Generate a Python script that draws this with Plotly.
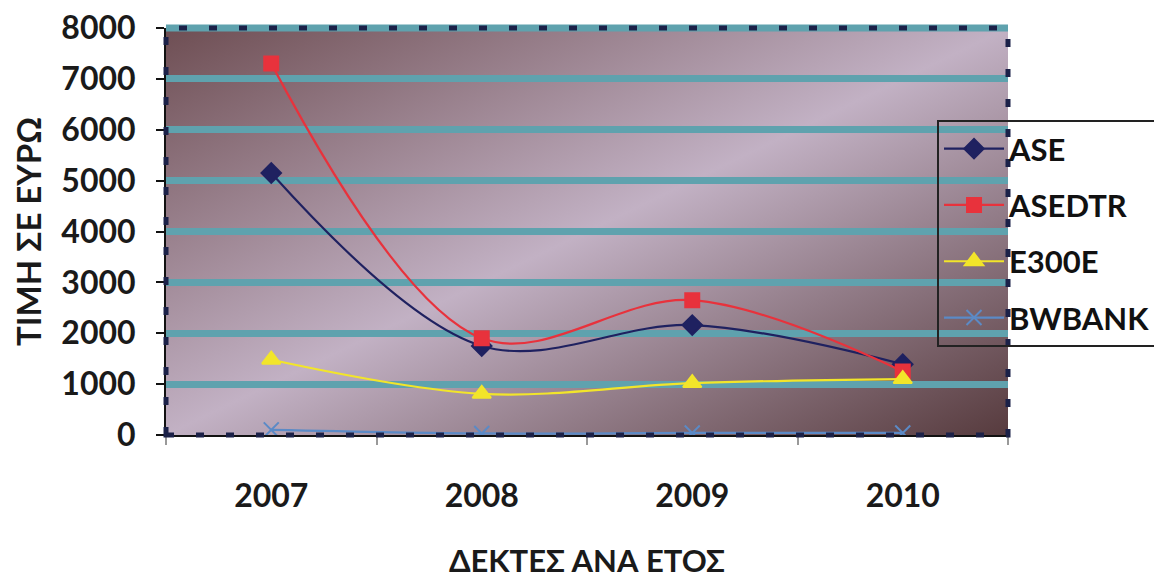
import base64
import plotly.graph_objects as go

years = ["2007", "2008", "2009", "2010"]
ase = [5150, 1750, 2160, 1390]
asedtr = [7300, 1900, 2650, 1250]
e300e = [1480, 810, 1020, 1100]
bwbank = [100, 30, 40, 40]

series_names = ["ASE", "ASEDTR", "E300E", "BWBANK"]
line_colors = ["#1f2160", "#e8323c", "#f2e52a", "#5b8ac6"]
marker_symbols = ["diamond", "square", "triangle-up", "x-thin-open"]
marker_sizes = [15, 14, 16, 15]
y_tick_vals = [0, 1000, 2000, 3000, 4000, 5000, 6000, 7000, 8000]

FONT = "Lato"

fig = go.Figure()
for i, (name, vals) in enumerate(zip(series_names, [ase, asedtr, e300e, bwbank])):
    fig.add_trace(go.Scatter(
        x=years, y=vals, name=name, mode="lines+markers",
        line=dict(color=line_colors[i], width=2.2, shape="spline"),
        marker=dict(symbol=marker_symbols[i], size=marker_sizes[i], color=line_colors[i],
                    line=dict(color=line_colors[i], width=2)),
        legendgroup=name,
    ))

svg = ('<svg xmlns="http://www.w3.org/2000/svg" width="842" height="407" viewBox="0 0 842 407" '
       'preserveAspectRatio="none"><defs><linearGradient id="g" x1="0" y1="0" x2="1" y2="1">'
       '<stop offset="0" stop-color="#6e4e53"/><stop offset="0.5" stop-color="#c2b1c4"/>'
       '<stop offset="1" stop-color="#573b3e"/></linearGradient></defs>'
       '<rect width="842" height="407" fill="url(#g)"/></svg>')
src = "data:image/svg+xml;base64," + base64.b64encode(svg.encode()).decode()

fig.update_layout(
    width=1154, height=571,
    margin=dict(l=158, r=154, t=20, b=144, autoexpand=False),
    paper_bgcolor="white",
    plot_bgcolor="rgba(0,0,0,0)",
    font=dict(family=FONT, color="#1a1a1a"),
    images=[dict(source=src, xref="paper", yref="paper", x=0, y=1, sizex=1, sizey=1,
                 xanchor="left", yanchor="top", sizing="stretch", layer="below")],
    legend=dict(
        x=0.9157, y=0.774, xanchor="left", yanchor="top",
        bgcolor="rgba(0,0,0,0)", bordercolor="#222222", borderwidth=2,
        font=dict(family=FONT, size=31, color="#111111", weight="bold"),
        tracegroupgap=13, traceorder="grouped", itemwidth=60,
    ),
    showlegend=True,
)

fig.update_xaxes(
    type="category", range=[-0.5, 3.5], tickson="boundaries", automargin=False,
    ticks="outside", ticklen=8, tickcolor="#999999", tickwidth=2,
    showline=True, linecolor="#111111", linewidth=2,
    showgrid=False, zeroline=False,
    tickfont=dict(family=FONT, size=32, color="#1a1a1a", weight="bold"),
    ticklabelstandoff=32,
    title=dict(text="ΔΕΚΤΕΣ ΑΝΑ ΕΤΟΣ", standoff=40,
               font=dict(family=FONT, size=31, color="#1a1a1a", weight="bold")),
)
fig.update_yaxes(
    range=[0, 8000], tickvals=y_tick_vals, automargin=False, ticklabeloverflow="allow",
    ticks="outside", ticklen=8, tickcolor="#111111", tickwidth=2,
    showline=True, linecolor="#111111", linewidth=2,
    showgrid=True, gridcolor="#5fa2ae", gridwidth=7, zeroline=False,
    tickfont=dict(family=FONT, size=32, color="#1a1a1a", weight="bold"),
    ticklabelstandoff=14,
    title=dict(text="ΤΙΜΗ ΣΕ ΕΥΡΩ", standoff=12,
               font=dict(family=FONT, size=33, color="#1a1a1a", weight="bold")),
)

# top gridline band (hidden by plotly at the range edge) and dashed plot border
fig.add_shape(type="line", xref="paper", yref="paper", x0=0, y0=1, x1=1, y1=1,
              line=dict(color="#5fa2ae", width=7), layer="above")
fig.add_shape(type="rect", xref="paper", yref="paper", x0=0, y0=0, x1=1, y1=1,
              line=dict(color="#1b2148", width=5, dash="8px,22px"), layer="above")

fig.write_html("out.html")
